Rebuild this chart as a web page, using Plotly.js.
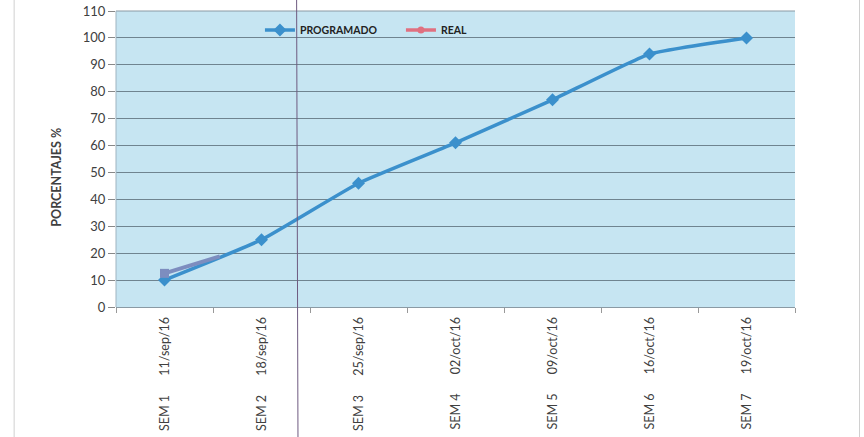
<!DOCTYPE html>
<html><head><meta charset="utf-8">
<script src="https://cdn.plot.ly/plotly-3.0.1.min.js"></script>
<style>html,body{margin:0;padding:0;background:#fff;}#chart{width:864px;height:437px;}</style>
</head><body><div id="chart"></div>
<script>
// Data
var weeks = ["SEM 1", "SEM 2", "SEM 3", "SEM 4", "SEM 5", "SEM 6", "SEM 7"];
var dates = ["11/sep/16", "18/sep/16", "25/sep/16", "02/oct/16", "09/oct/16", "16/oct/16", "19/oct/16"];
var weekIndex = [0, 1, 2, 3, 4, 5, 6];
var programado = [10, 25, 46, 61, 77, 94, 100];
var realWeek = [0, 0.57];
var real = [12.5, 18.8];
var yTitle = "PORCENTAJES %";

var tickText = weeks.map(function(w, i){ return w + "\u00a0\u00a0\u00a0\u00a0\u00a0\u00a0" + dates[i]; });

var traces = [
  {x: weekIndex, y: programado, type: 'scatter', mode: 'lines+markers', name: 'PROGRAMADO',
   line: {color: '#3b90cc', width: 3.5, shape: 'spline', smoothing: 0.4},
   marker: {symbol: 'diamond', size: 10, color: '#3b90cc'}},
  {x: [null], y: [null], type: 'scatter', mode: 'lines+markers', name: 'REAL',
   line: {color: '#e07080', width: 3.5},
   marker: {symbol: 'circle', size: 7, color: '#e07080'}},
  {x: realWeek, y: real, type: 'scatter', mode: 'lines', name: 'REAL', showlegend: false,
   line: {color: '#7d8dbf', width: 4}},
  {x: [0], y: [real[0]], type: 'scatter', mode: 'markers', showlegend: false, hoverinfo: 'skip',
   marker: {symbol: 'square', size: 9, color: '#7d8dbf'}}
];

var layout = {
  width: 864, height: 437,
  margin: {l: 116, r: 69, t: 11, b: 130},
  paper_bgcolor: '#ffffff',
  plot_bgcolor: '#c6e5f2',
  font: {family: 'Lato, "Open Sans", sans-serif', color: '#404040', size: 11},
  showlegend: true,
  legend: {orientation: 'h', x: 0.212, xanchor: 'left', y: 0.985, yanchor: 'top',
           bgcolor: 'rgba(0,0,0,0)', font: {size: 10.5, color: '#222', weight: 'bold'},
           itemwidth: 30, entrywidth: 96, entrywidthmode: 'pixels', tracegroupgap: 0},
  xaxis: {
    type: 'linear', range: [-0.5, 6.5], fixedrange: true,
    tickvals: weekIndex, ticktext: tickText, tickangle: -90,
    ticks: '', showgrid: false, zeroline: false,
    showline: true, linecolor: '#8a9aa4', linewidth: 1,
    ticklabelstandoff: 4,
    tickfont: {size: 12.5, color: '#404040'},
    minor: {tick0: 0.5, dtick: 1, ticks: 'outside', ticklen: 5, tickcolor: '#999', showgrid: false}
  },
  yaxis: {
    range: [0, 110], dtick: 10, fixedrange: true,
    showgrid: true, gridcolor: '#6f8490', gridwidth: 1,
    zeroline: false, showline: false,
    ticks: 'outside', ticklen: 7, tickcolor: '#888',
    tickfont: {size: 13, color: '#404040'}
  },
  annotations: [
    {text: yTitle, xref: 'paper', yref: 'paper', x: -0.087, y: 0.44, xanchor: 'center', yanchor: 'middle',
     textangle: -90, showarrow: false, font: {size: 12.5, color: '#404040', weight: 'bold'}}
  ],
  shapes: [
    {type: 'line', xref: 'paper', yref: 'paper', x0: 0, x1: 1, y0: 1, y1: 1,
     line: {color: '#8a9aa4', width: 1}},
    {type: 'line', xref: 'paper', yref: 'paper', x0: 0, x1: 0, y0: 0, y1: 1,
     line: {color: '#9fb4c0', width: 1}},
    {type: 'line', xref: 'paper', yref: 'paper', x0: 0.266, x1: 0.268, y0: 1.04, y1: -0.44,
     line: {color: '#6e5a80', width: 1}},
    {type: 'line', xref: 'paper', yref: 'paper', x0: -0.15, x1: -0.15, y0: 1.04, y1: -0.44,
     line: {color: '#d0d0d0', width: 1}},
    {type: 'line', xref: 'paper', yref: 'paper', x0: 1.095, x1: 1.095, y0: 1.04, y1: -0.44,
     line: {color: '#d0d0d0', width: 1}}
  ]
};

Plotly.newPlot('chart', traces, layout, {displayModeBar: false, staticPlot: true});
</script>
</body></html>
